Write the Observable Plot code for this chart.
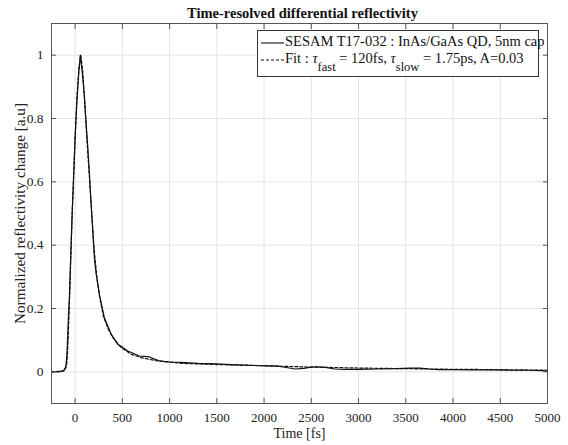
<!DOCTYPE html>
<html>
<head>
<meta charset="utf-8">
<script src="https://cdn.jsdelivr.net/npm/d3@7"></script>
<script src="https://cdn.jsdelivr.net/npm/@observablehq/plot@0.6"></script>
<style>
  body { margin: 0; background: #fff; }
  #wrap { position: relative; width: 568px; height: 445px; font-family: "Liberation Serif", "DejaVu Serif", serif; }
  #wrap svg text { font-family: "Liberation Serif", "DejaVu Serif", serif; }
  #legend {
    position: absolute; left: 257px; top: 30px; width: 282px; height: 47px;
    border: 1px solid #333; background: #fff; box-sizing: border-box;
    font-size: 14.5px; color: #111; line-height: 17px;
  }
  .row { position: absolute; left: 2px; white-space: nowrap; }
  .row svg { vertical-align: middle; margin-right: 1px; }
  sub { font-size: 12.5px; vertical-align: -8px; line-height: 0; }
  i { font-style: italic; }
</style>
</head>
<body>
<div id="wrap"></div>
<script>
// Measured trace (time in fs, normalized reflectivity change)
const timeMeas = [-250,-200,-150,-120,-100,-90,-80,-70,-60,-50,-40,-30,-20,-10,0,20,40,55,70,81,99,115,134,152,169,187,204,222,257,310,380,451,500,557,620,680,730,785,840,891,950,1000,1120,1300,1500,1700,1900,2050,2150,2250,2330,2420,2500,2570,2650,2750,2850,3000,3200,3400,3550,3650,3750,3850,4000,4200,4400,4600,4800,4950,5000];
const measured = [0.000,0.001,0.002,0.005,0.015,0.04,0.10,0.18,0.24,0.33,0.42,0.51,0.58,0.66,0.74,0.86,0.95,1.00,0.96,0.93,0.866,0.79,0.71,0.624,0.53,0.445,0.36,0.31,0.245,0.17,0.12,0.087,0.078,0.066,0.058,0.05,0.049,0.047,0.04,0.035,0.032,0.031,0.03,0.027,0.025,0.022,0.02,0.019,0.018,0.013,0.009,0.011,0.015,0.016,0.014,0.009,0.008,0.008,0.009,0.01,0.012,0.012,0.009,0.007,0.007,0.006,0.006,0.005,0.005,0.004,0.001];

// Fit trace
const timeFit = [-250,-150,-110,-90,-80,-70,-60,-45,-30,-15,0,20,40,60,80,100,130,150,170,200,230,260,300,350,400,486,592,698,856,1000,1120,1300,1500,1825,2000,2500,3000,3500,4000,4500,5000];
const fit = [0.000,0.000,0.004,0.02,0.06,0.14,0.22,0.37,0.51,0.63,0.74,0.87,0.96,1.00,0.95,0.86,0.71,0.62,0.53,0.39,0.30,0.235,0.175,0.135,0.108,0.077,0.056,0.045,0.035,0.031,0.027,0.025,0.023,0.021,0.019,0.015,0.012,0.01,0.008,0.007,0.005];

const xTicks = [0,500,1000,1500,2000,2500,3000,3500,4000,4500,5000];
const yTicks = [0,0.2,0.4,0.6,0.8,1];
const title = "Time-resolved differential reflectivity";
const xLabel = "Time [fs]";
const yLabel = "Normalized reflectivity change [a.u]";
const seriesNames = ["SESAM T17-032 : InAs/GaAs QD, 5nm cap", "Fit"];

const measData = timeMeas.map((t, i) => ({t, v: measured[i]}));
const fitData = timeFit.map((t, i) => ({t, v: fit[i]}));

const axisColor = "#222";
const font = "Liberation Serif, DejaVu Serif, serif";

const chart = Plot.plot({
  width: 568,
  height: 445,
  marginLeft: 51,
  marginRight: 21,
  marginTop: 23,
  marginBottom: 42,
  style: { fontFamily: font, background: "#fff", color: axisColor },
  x: { domain: [-250, 5000] },
  y: { domain: [-0.1, 1.1] },
  marks: [
    Plot.gridX(xTicks, { stroke: "#e3e3e3", strokeOpacity: 1 }),
    Plot.gridY(yTicks, { stroke: "#e3e3e3", strokeOpacity: 1 }),
    Plot.line(measData, { x: "t", y: "v", stroke: "#111", strokeWidth: 1.2 }),
    Plot.line(fitData, { x: "t", y: "v", stroke: "#111", strokeWidth: 1.2, strokeDasharray: "3,2" }),
    Plot.frame({ stroke: "#555", strokeWidth: 1 }),
    // inward tick marks on all four sides
    Plot.axisX(xTicks, { anchor: "bottom", tickSize: -5, tickFormat: () => "", label: null, stroke: "#555" }),
    Plot.axisX(xTicks, { anchor: "top", tickSize: -5, tickFormat: () => "", label: null, stroke: "#555" }),
    Plot.axisY(yTicks, { anchor: "left", tickSize: -5, tickFormat: () => "", label: null, stroke: "#555" }),
    Plot.axisY(yTicks, { anchor: "right", tickSize: -5, tickFormat: () => "", label: null, stroke: "#555" }),
    // tick labels
    Plot.axisX(xTicks, { anchor: "bottom", tickSize: 0, tickPadding: 9, tickFormat: d => String(d), label: null, fontSize: 13, fill: axisColor, fontFamily: font }),
    Plot.axisY(yTicks, { anchor: "left", tickSize: 0, tickPadding: 8, tickFormat: d => String(+d.toFixed(1)), label: null, fontSize: 13.5, fill: axisColor, fontFamily: font }),
    // axis titles and chart title
    Plot.text([xLabel], { frameAnchor: "bottom", dy: 30, lineAnchor: "middle", textAnchor: "middle", text: d => d, fontSize: 14, fill: axisColor, fontFamily: font }),
    Plot.text([yLabel], { frameAnchor: "left", dx: -31, rotate: -90, lineAnchor: "middle", textAnchor: "middle", text: d => d, fontSize: 15.2, fill: axisColor, fontFamily: font }),
    Plot.text([title], { frameAnchor: "top", dy: -10, dx: 3, lineAnchor: "middle", textAnchor: "middle", text: d => d, fontSize: 14.5, fontWeight: "bold", fill: "#111", fontFamily: font })
  ]
});

const wrap = document.getElementById("wrap");
wrap.appendChild(chart);

const legend = document.createElement("div");
legend.id = "legend";
legend.innerHTML =
  `<div class="row" style="top:2px"><svg width="24" height="10"><line x1="1" y1="5" x2="24" y2="5" stroke="#111" stroke-width="1.1"/></svg>${seriesNames[0]}</div>` +
  `<div class="row" style="top:19px"><svg width="24" height="10"><line x1="1" y1="5" x2="24" y2="5" stroke="#111" stroke-width="1.1" stroke-dasharray="3,2"/></svg>${seriesNames[1]} : <i>τ</i><sub>fast</sub> = 120fs, <i>τ</i><sub>slow</sub> = 1.75ps, A=0.03</div>`;
wrap.appendChild(legend);
</script>
</body>
</html>
